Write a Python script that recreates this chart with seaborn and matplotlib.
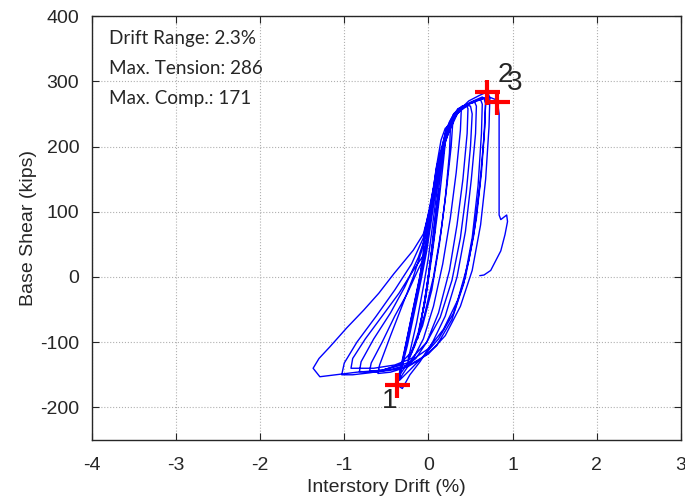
"""
Hysteresis plot of base shear vs. interstory drift
"""
import numpy as np
import pandas as pd
import matplotlib
matplotlib.use('Agg')
import matplotlib.pyplot as plt
import seaborn as sns

# loops (drift in %, shear in kips)
loop_1 = [(0.00, 0), (0.03, 30), (0.06, 60), (0.08, 75), (0.06, 55), (0.02, 20),
          (-0.02, -15), (-0.05, -40), (-0.07, -55), (-0.05, -45), (-0.01, -10), (0.02, 20)]
loop_2 = [(0.02, 20), (0.06, 70), (0.10, 110), (0.13, 135), (0.12, 120), (0.07, 70),
          (0.02, 20), (-0.04, -35), (-0.10, -75), (-0.13, -95), (-0.11, -85),
          (-0.05, -40), (0.00, 0), (0.05, 50)]
loop_3 = [(0.05, 50), (0.10, 110), (0.15, 165), (0.19, 200), (0.20, 205), (0.18, 180),
          (0.12, 110), (0.05, 40), (-0.03, -30), (-0.12, -85), (-0.20, -115),
          (-0.24, -125), (-0.22, -115), (-0.14, -70), (-0.06, -15), (0.00, 30)]
loop_4 = [(0.00, 30), (0.06, 90), (0.14, 170), (0.20, 215), (0.25, 238), (0.28, 245),
          (0.29, 238), (0.27, 200), (0.22, 140), (0.15, 70), (0.06, 0), (-0.05, -60),
          (-0.16, -105), (-0.26, -135), (-0.33, -148), (-0.32, -140), (-0.25, -105),
          (-0.16, -50), (-0.08, 0), (-0.02, 40)]
loop_5 = [(-0.02, 40), (0.05, 100), (0.14, 180), (0.22, 225), (0.30, 250), (0.36, 258),
          (0.39, 255), (0.38, 225), (0.33, 160), (0.26, 90), (0.17, 20), (0.06, -45),
          (-0.06, -95), (-0.18, -125), (-0.30, -148), (-0.36, -160), (-0.34, -150),
          (-0.28, -115), (-0.20, -65), (-0.12, -15), (-0.05, 30)]
loop_5b = [(-0.05, 30), (0.02, 95), (0.09, 165), (0.15, 210), (0.20, 228), (0.24, 232),
           (0.26, 224), (0.25, 190), (0.20, 120), (0.13, 50), (0.04, -20), (-0.07, -75),
           (-0.20, -115), (-0.35, -135), (-0.55, -143), (-0.70, -145), (-0.68, -132),
           (-0.55, -100), (-0.40, -60), (-0.25, -25), (-0.12, 12), (-0.05, 30)]
loop_6 = [(-0.05, 30), (0.02, 85), (0.10, 160), (0.20, 220), (0.30, 250), (0.40, 262),
          (0.45, 264), (0.47, 258), (0.46, 220), (0.41, 150), (0.34, 80), (0.25, 10),
          (0.12, -55), (-0.02, -100), (-0.15, -125), (-0.30, -140), (-0.45, -146),
          (-0.60, -148), (-0.58, -135), (-0.45, -90), (-0.30, -40), (-0.18, 0), (-0.08, 40)]
loop_7 = [(-0.08, 40), (0.00, 90), (0.10, 170), (0.22, 230), (0.35, 258), (0.48, 266),
          (0.55, 268), (0.57, 262), (0.56, 220), (0.51, 150), (0.44, 70), (0.34, 0),
          (0.20, -60), (0.05, -100), (-0.10, -130), (-0.22, -150), (-0.31, -171),
          (-0.37, -166), (-0.35, -150), (-0.28, -110), (-0.20, -60), (-0.12, -10), (-0.05, 35)]
loop_7b = [(-0.05, 35), (0.02, 90), (0.12, 175), (0.25, 235), (0.38, 258), (0.46, 263),
           (0.50, 262), (0.52, 250), (0.50, 200), (0.45, 130), (0.38, 60), (0.28, -5),
           (0.14, -62), (-0.02, -100), (-0.20, -125), (-0.40, -135), (-0.65, -140),
           (-0.92, -140), (-0.90, -125), (-0.75, -95), (-0.55, -60), (-0.35, -25),
           (-0.18, 10), (-0.05, 35)]
loop_8 = [(-0.05, 35), (0.03, 95), (0.14, 180), (0.28, 240), (0.42, 262), (0.55, 270),
          (0.62, 272), (0.64, 265), (0.63, 220), (0.59, 140), (0.52, 60), (0.42, -10),
          (0.28, -65), (0.10, -105), (-0.08, -125), (-0.25, -138), (-0.45, -143),
          (-0.65, -146), (-0.82, -145), (-0.80, -130), (-0.65, -95), (-0.45, -55),
          (-0.28, -15), (-0.12, 30), (-0.04, 60)]
loop_8b = [(-0.04, 60), (0.06, 130), (0.20, 210), (0.35, 252), (0.50, 266), (0.62, 272),
           (0.66, 274), (0.68, 266), (0.66, 215), (0.61, 140), (0.54, 65), (0.44, 0),
           (0.30, -55), (0.12, -95), (-0.05, -120), (-0.20, -140), (-0.34, -158),
           (-0.33, -145), (-0.27, -105), (-0.19, -55), (-0.10, 0), (-0.04, 60)]
loop_9 = [(-0.04, 60), (0.05, 120), (0.18, 200), (0.32, 250), (0.48, 270), (0.60, 278),
          (0.70, 284), (0.73, 275), (0.72, 230), (0.68, 150), (0.62, 80), (0.52, 10),
          (0.38, -45), (0.20, -90), (0.00, -118), (-0.20, -133), (-0.45, -142),
          (-0.70, -147), (-0.90, -150), (-1.03, -150), (-1.00, -132), (-0.85, -100),
          (-0.62, -60), (-0.40, -20), (-0.20, 20), (-0.06, 60)]
loop_10 = [(-0.06, 60), (0.05, 130), (0.20, 215), (0.35, 255), (0.50, 268), (0.64, 276),
           (0.68, 272), (0.67, 230), (0.63, 160), (0.57, 90), (0.48, 25), (0.35, -35),
           (0.18, -80), (0.00, -110), (-0.25, -132), (-0.55, -143), (-0.85, -146),
           (-1.10, -150), (-1.29, -153), (-1.37, -140), (-1.30, -125), (-1.17, -107),
           (-0.97, -78), (-0.77, -51), (-0.59, -25), (-0.41, 5), (-0.18, 41),
           (-0.06, 66), (0.03, 110)]
loop_11 = [(0.03, 110), (0.15, 190), (0.30, 245), (0.45, 264), (0.60, 272), (0.72, 276),
           (0.80, 272), (0.82, 269), (0.84, 250), (0.84, 200), (0.84, 150), (0.84, 95),
           (0.86, 88), (0.93, 95), (0.94, 85), (0.91, 65), (0.86, 40), (0.80, 25),
           (0.74, 10), (0.66, 3), (0.61, 2)]

# marked points 1, 2, 3
point_labels = ['1', '2', '3']
point_drift = [-0.37, 0.70, 0.82]
point_shear = [-166, 284, 269]

info_lines = ['Drift Range: 2.3%', 'Max. Tension: 286', 'Max. Comp.: 171']

x_ticks = [-4, -3, -2, -1, 0, 1, 2, 3]
y_ticks = [-200, -100, 0, 100, 200, 300, 400]


if __name__ == '__main__':

    loops = [loop_1, loop_2, loop_3, loop_4, loop_5, loop_5b, loop_6,
             loop_7, loop_7b, loop_8, loop_8b, loop_9, loop_10, loop_11]
    pts = [p for loop in loops for p in loop]
    data = pd.DataFrame(pts, columns=['drift', 'shear'])
    data['order'] = np.arange(len(data))

    sns.set_theme(style='ticks')
    plt.rcParams['font.family'] = ['Liberation Sans', 'DejaVu Sans']
    plt.rcParams['axes.unicode_minus'] = False

    fig = plt.figure(figsize=(6.85, 5.04), dpi=100)
    ax = fig.add_axes([0.134, 0.127, 0.860, 0.841])

    ax.grid(True, linestyle=':', color='#b0b0b0', linewidth=0.8)
    ax.set_axisbelow(True)

    sns.lineplot(data=data, x='drift', y='shear', sort=False, estimator=None,
                 color='#0000ff', linewidth=1.0, ax=ax)

    ax.plot(point_drift, point_shear, linestyle='none', marker='+',
            color='#ff0000', markersize=18, markeredgewidth=3, zorder=5)

    ax.text(-0.46, -190, point_labels[0], fontsize=20, ha='center', va='center')
    ax.text(0.91, 310, point_labels[1], fontsize=20, ha='center', va='center')
    ax.text(1.03, 297, point_labels[2], fontsize=20, ha='center', va='center')

    for i, line in enumerate(info_lines):
        ax.text(0.03, 0.948 - i * 0.071, line, transform=ax.transAxes,
                fontsize=13.6, family='Lato', ha='left', va='center')

    ax.set_xlim(-4, 3)
    ax.set_ylim(-250, 400)
    ax.set_xticks(x_ticks)
    ax.set_yticks(y_ticks)
    ax.tick_params(direction='in', length=5, width=0.8, labelsize=14,
                   top=True, right=True, colors='#262626', pad=9)
    ax.tick_params(axis='x', pad=12)
    for spine in ax.spines.values():
        spine.set_visible(True)
        spine.set_color('#262626')
        spine.set_linewidth(1.0)

    ax.set_xlabel('Interstory Drift (%)', fontsize=14, labelpad=4)
    ax.set_ylabel('Base Shear (kips)', fontsize=14, labelpad=2)

    fig.savefig('out.png', dpi=100)
